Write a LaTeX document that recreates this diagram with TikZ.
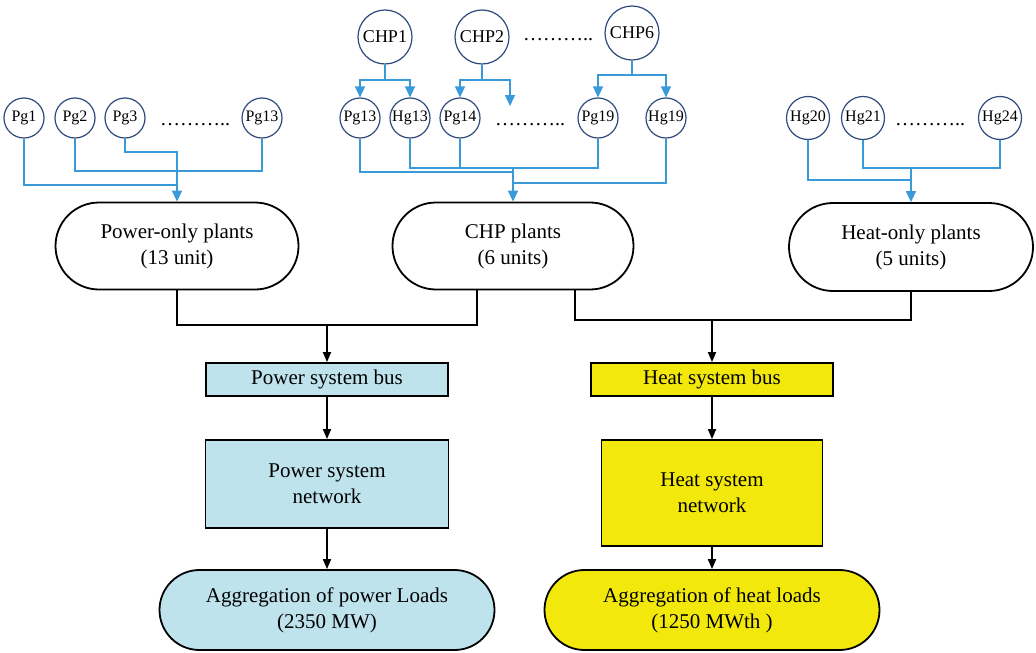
\documentclass[tikz,border=0pt]{standalone}
\usepackage{fontspec}
\setmainfont{Liberation Serif}
\usetikzlibrary{arrows.meta,shapes.misc}
\definecolor{lblue}{HTML}{BEE3ED}
\definecolor{yel}{HTML}{F2E80C}
\definecolor{lineblue}{HTML}{3A9AD9}
\definecolor{navy}{HTML}{2E4A7D}
\begin{document}
\begin{tikzpicture}[x=1pt,y=-1pt,
 unitc/.style={circle,draw=navy,line width=1.2pt,fill=white,inner sep=0pt,minimum size=40pt,font=\fontsize{16}{18}\selectfont},
 chpc/.style={unitc,minimum size=54pt,font=\fontsize{18}{20}\selectfont},
 heatc/.style={unitc,minimum size=43pt},
 dotsn/.style={inner sep=0pt,anchor=base west,font=\fontsize{20}{22}\selectfont},
 plant/.style={rounded rectangle,draw=black,line width=1.8pt,minimum width=243pt,minimum height=87pt,align=center,font=\fontsize{21}{26}\selectfont,fill=white,inner sep=0pt},
 busbox/.style={rectangle,draw=black,line width=1.8pt,minimum width=242pt,minimum height=33pt,font=\fontsize{21}{26}\selectfont,inner sep=0pt},
 netbox/.style={rectangle,draw=black,line width=1.8pt,align=center,font=\fontsize{21}{26}\selectfont,inner sep=0pt},
 loadbox/.style={rounded rectangle,draw=black,line width=1.8pt,minimum width=335pt,minimum height=80pt,align=center,font=\fontsize{21}{26}\selectfont,inner sep=0pt},
 bl/.style={draw=lineblue,line width=1.4pt},
 blarrow/.style={bl,-{Triangle[length=11pt,width=10pt]}},
 blk/.style={draw=black,line width=1.8pt},
 blkarrow/.style={blk,-{Triangle[length=10pt,width=8pt]}}
]
\useasboundingbox (0,0) rectangle (1036,653);

% ---------- power-only units ----------
\node[unitc] (Pg1) at (24,118) {Pg1};
\node[unitc] (Pg2) at (75,118) {Pg2};
\node[unitc] (Pg3) at (125,118) {Pg3};
\node[unitc] (Pg13) at (262,118) {Pg13};
\node[dotsn] (dA) at (160,125) {………..};

% ---------- CHP units ----------
\node[chpc] (CHP1) at (385,37) {CHP1};
\node[chpc] (CHP2) at (482,37) {CHP2};
\node[chpc] (CHP6) at (632,33) {CHP6};
\node[dotsn] (dB) at (523,40) {………..};

\node[unitc] (Pg13b) at (360,118) {Pg13};
\node[unitc] (Hg13) at (410,118) {Hg13};
\node[unitc] (Pg14) at (460,118) {Pg14};
\node[unitc] (Pg19) at (598,118) {Pg19};
\node[unitc] (Hg19) at (666,118) {Hg19};
\node[dotsn] (dC) at (495,125) {………..};

% ---------- heat-only units ----------
\node[heatc] (Hg20) at (808,118) {Hg20};
\node[heatc] (Hg21) at (863,118) {Hg21};
\node[heatc] (Hg24) at (1000,118) {Hg24};
\node[dotsn] (dD) at (895,125) {………..};

% ---------- plants ----------
\node[plant] (pop) at (177,246) {Power-only plants\\(13 unit)};
\node[plant,minimum width=241pt] (chp) at (513,246) {CHP plants\\(6 units)};
\node[plant,minimum width=244pt,minimum height=88pt] (hop) at (911,247) {Heat-only plants\\(5 units)};

% ---------- buses / networks / loads ----------
\node[busbox,fill=lblue] (pbus) at (327,379.5) {Power system bus};
\node[busbox,fill=yel] (hbus) at (712,379.5) {Heat system bus};
\node[netbox,fill=lblue,minimum width=243pt,minimum height=88pt] (pnet) at (327,484) {Power system\\network};
\node[netbox,fill=yel,minimum width=221pt,minimum height=106pt] (hnet) at (712,493) {Heat system\\network};
\node[loadbox,fill=lblue] (pload) at (327,610) {Aggregation of power Loads\\(2350 MW)};
\node[loadbox,fill=yel] (hload) at (712,610) {Aggregation of heat loads\\(1250 MWth )};

% ---------- blue connectors: power-only ----------
\coordinate (pj1) at (177,185);
\coordinate (pj2) at (177,171);
\coordinate (pj3) at (177,152);
\draw[bl] (Pg1.south) |- (pj1);
\draw[bl] (Pg2.south) |- (Pg13.south |- pj2) -- (Pg13.south);
\draw[blarrow] (Pg3.south) |- (pj3) -- (pop.north);

% ---------- blue connectors: CHP ----------
\coordinate (c1j) at (385,80);
\coordinate (c2j) at (482,80);
\coordinate (c2e) at (510,106);
\coordinate (c6j) at (632,75);
\draw[bl] (CHP1.south) -- (c1j);
\draw[blarrow] (c1j) -| (Pg13b.north);
\draw[blarrow] (c1j) -| (Hg13.north);
\draw[bl] (CHP2.south) -- (c2j);
\draw[blarrow] (c2j) -| (Pg14.north);
\draw[blarrow] (c2j) -| (c2e);
\draw[bl] (CHP6.south) -- (c6j);
\draw[blarrow] (c6j) -| (Pg19.north);
\draw[blarrow] (c6j) -| (Hg19.north);

\coordinate (cj1) at (513,172);
\coordinate (cj2) at (598,168);
\coordinate (cj3) at (513,183);
\coordinate (cjA) at (513,168);
\draw[bl] (Pg13b.south) |- (cj1);
\draw[bl] (Hg13.south) |- (cj2) -- (Pg19.south);
\draw[bl] (Pg14.south) -- (Pg14.south |- cj2);
\draw[bl] (Hg19.south) |- (cj3);
\draw[blarrow] (cjA) -- (chp.north);

% ---------- blue connectors: heat-only ----------
\coordinate (hj1) at (911,180);
\coordinate (hj2) at (911,168);
\draw[bl] (Hg20.south) |- (hj1);
\draw[bl] (Hg21.south) |- (Hg24.south |- hj2) -- (Hg24.south);
\draw[blarrow] (hj2) -- (hop.north);

% ---------- black connectors ----------
\coordinate (cL) at (477,325);
\coordinate (cR) at (575,320);
\draw[blk] (pop.south) |- (cL) -- (cL |- chp.south);
\draw[blkarrow] (cL -| pbus.north) -- (pbus.north);
\draw[blk] (cR |- chp.south) -- (cR) -| (hop.south);
\draw[blkarrow] (cR -| hbus.north) -- (hbus.north);
\draw[blkarrow] (pbus.south) -- (pnet.north);
\draw[blkarrow] (pnet.south) -- (pload.north);
\draw[blkarrow] (hbus.south) -- (hnet.north);
\draw[blkarrow] (hnet.south) -- (hload.north);
\end{tikzpicture}
\end{document}
